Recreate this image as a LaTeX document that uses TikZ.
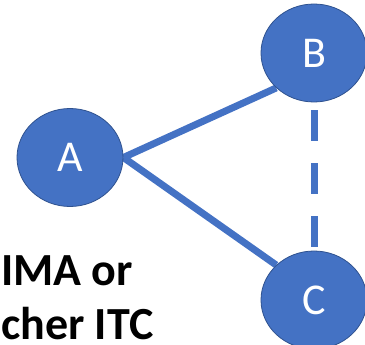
\documentclass[tikz,border=0pt]{standalone}
\usepackage{fontspec}
\setmainfont{Carlito}
\usetikzlibrary{shapes.geometric,backgrounds}
\definecolor{nodeblue}{HTML}{4472C4}
\definecolor{edgeblue}{HTML}{2F528F}
\tikzset{
  vertex/.style={ellipse, fill=nodeblue, draw=edgeblue, line width=0.8pt,
    minimum width=106pt, minimum height=98pt, inner sep=0pt,
    text=white, font=\fontsize{44}{44}\selectfont},
  link/.style={draw=nodeblue, line width=7pt},
  dashlink/.style={link, dash pattern=on 31pt off 22pt, dash phase=45pt},
  caption/.style={anchor=base west, inner sep=0pt, font=\fontsize{46}{46}\selectfont\bfseries, text=black}
}
\begin{document}
\begin{tikzpicture}[x=1pt,y=-1pt]
\useasboundingbox (0,0) rectangle (365,345);
\clip (0,0) rectangle (365,345);
\node[vertex] (A) at (70,157.5) {A};
\node[vertex] (B) at (314,53) {B};
\node[vertex] (C) at (314,300) {C};
\begin{pgfonlayer}{background}
\draw[link] (A.east) -- (B.south west);
\draw[link] (A.east) -- (C.north west);
\draw[dashlink] (B.south) -- (C.north);
\end{pgfonlayer}
\node[caption] (t1) at (1,286) {IMA or};
\node[caption] (t2) at (1,339) {cher ITC};
\end{tikzpicture}
\end{document}
